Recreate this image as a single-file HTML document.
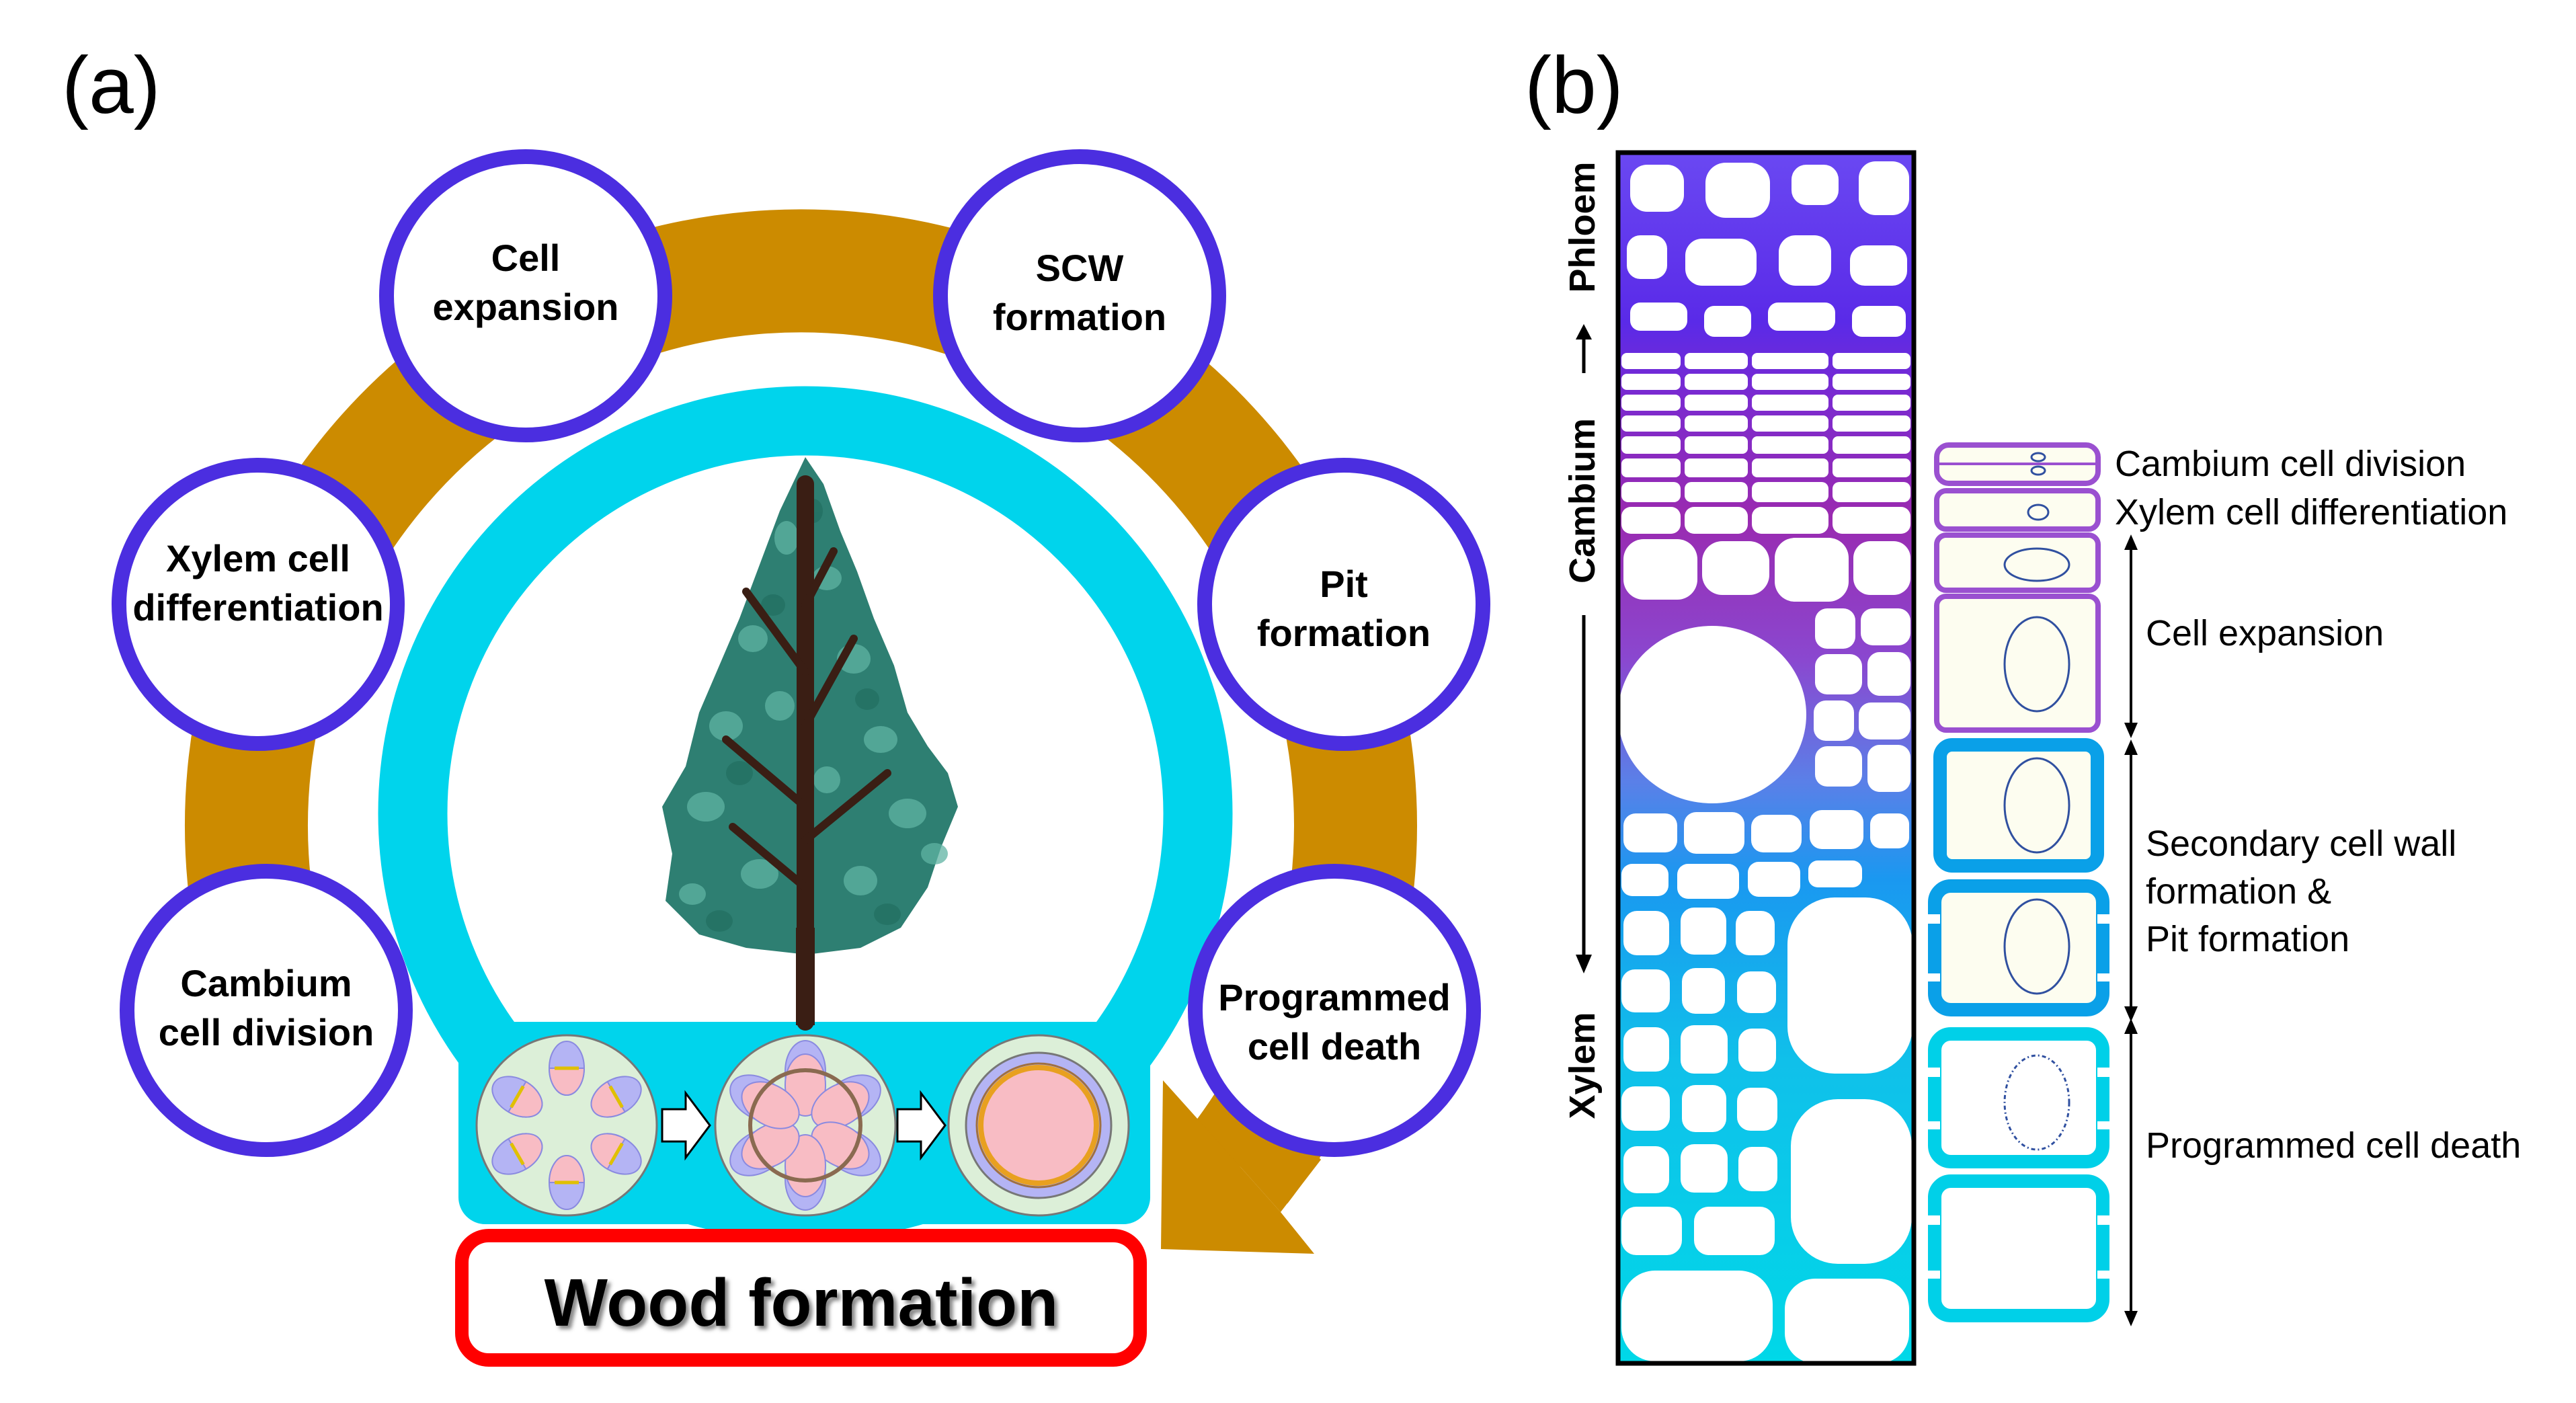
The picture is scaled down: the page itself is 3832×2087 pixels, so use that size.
<!DOCTYPE html>
<html><head><meta charset="utf-8"><style>
html,body{margin:0;padding:0;background:#fff;}
svg{display:block;}
.cl{font-family:"Liberation Sans",Arial,sans-serif;font-weight:bold;font-size:56px;fill:#000;text-anchor:middle;}
.lb{font-family:"Liberation Sans",Arial,sans-serif;font-size:54px;fill:#000;}
</style></head><body>
<svg width="3832" height="2087" viewBox="0 0 3832 2087" xmlns="http://www.w3.org/2000/svg">
<defs>
<linearGradient id="mg" x1="0" y1="227" x2="0" y2="2028" gradientUnits="userSpaceOnUse">
<stop offset="0" stop-color="#6a48f2"/><stop offset="0.14" stop-color="#5a2ae8"/>
<stop offset="0.2" stop-color="#7a2ad0"/><stop offset="0.3" stop-color="#9a2ab0"/>
<stop offset="0.42" stop-color="#8a48d0"/><stop offset="0.52" stop-color="#5a80e8"/>
<stop offset="0.6" stop-color="#1a98f0"/><stop offset="0.75" stop-color="#10c0ea"/>
<stop offset="1" stop-color="#00d8e8"/></linearGradient>
<filter id="sh"><feDropShadow dx="5" dy="5" stdDeviation="3" flood-color="#888"/></filter>
</defs>

<text x="92" y="168" font-family="Liberation Sans,Arial,sans-serif" font-size="120" fill="#000">(a)</text>

<path d="M423 1528 A825 825 0 1 1 1843 1734" fill="none" stroke="#cc8b00" stroke-width="183"/>
<polygon points="1782,1665 1905,1803 1965,1725 1845,1600" fill="#cc8b00"/>
<polygon points="1730,1607 1782,1665 1905,1803 1955,1865 1727,1858" fill="#cc8b00"/>

<circle cx="1198" cy="1210" r="584" fill="#fff" stroke="#00d4ec" stroke-width="103"/>
<rect x="682" y="1520" width="1029" height="301" rx="40" fill="#00d4ec"/>

<polygon points="1198,680 1225,720 1250,790 1275,850 1300,920 1330,990 1350,1060 1380,1110 1410,1150 1425,1200 1400,1260 1380,1320 1340,1380 1280,1410 1200,1420 1110,1410 1040,1390 990,1340 1000,1270 985,1200 1020,1140 1040,1060 1070,990 1100,920 1130,840 1160,760" fill="#2e7f72"/>
<g fill="#5fb3a3" opacity="0.75">
<ellipse cx="1170" cy="800" rx="18" ry="25"/><ellipse cx="1230" cy="860" rx="22" ry="18"/>
<ellipse cx="1120" cy="950" rx="22" ry="20"/><ellipse cx="1270" cy="980" rx="25" ry="22"/>
<ellipse cx="1080" cy="1080" rx="25" ry="22"/><ellipse cx="1310" cy="1100" rx="25" ry="20"/>
<ellipse cx="1160" cy="1050" rx="22" ry="22"/><ellipse cx="1050" cy="1200" rx="28" ry="22"/>
<ellipse cx="1350" cy="1210" rx="28" ry="22"/><ellipse cx="1130" cy="1300" rx="28" ry="22"/>
<ellipse cx="1280" cy="1310" rx="25" ry="22"/><ellipse cx="1230" cy="1160" rx="20" ry="20"/>
<ellipse cx="1030" cy="1330" rx="20" ry="16"/><ellipse cx="1390" cy="1270" rx="20" ry="16"/>
</g>
<g fill="#1f6a5e" opacity="0.6">
<ellipse cx="1210" cy="760" rx="14" ry="18"/><ellipse cx="1150" cy="900" rx="18" ry="16"/>
<ellipse cx="1290" cy="1040" rx="18" ry="16"/><ellipse cx="1100" cy="1150" rx="20" ry="18"/>
<ellipse cx="1320" cy="1360" rx="20" ry="16"/><ellipse cx="1070" cy="1370" rx="20" ry="16"/>
</g>
<g stroke="#3a1e14" fill="none" stroke-linecap="round">
<path d="M1198 720 L1198 1520" stroke-width="26"/>
<path d="M1198 1000 L1110 880 M1198 1080 L1270 950 M1198 1200 L1080 1100 M1198 1250 L1320 1150 M1198 900 L1240 820 M1198 1320 L1090 1230" stroke-width="12"/>
</g>
<rect x="1184" y="1380" width="28" height="145" fill="#3a1e14"/>

<g fill="#fff" stroke="#4b2ee0" stroke-width="22">
<circle cx="782" cy="440" r="207"/><circle cx="1606" cy="440" r="207"/>
<circle cx="384" cy="899" r="207"/><circle cx="1999" cy="899" r="207"/>
<circle cx="396" cy="1503" r="207"/><circle cx="1985" cy="1503" r="207"/>
</g>
<text class="cl" x="782" y="403">Cell</text><text class="cl" x="782" y="476">expansion</text>
<text class="cl" x="1606" y="418">SCW</text><text class="cl" x="1606" y="491">formation</text>
<text class="cl" x="384" y="850">Xylem cell</text><text class="cl" x="384" y="923">differentiation</text>
<text class="cl" x="1999" y="888">Pit</text><text class="cl" x="1999" y="961">formation</text>
<text class="cl" x="396" y="1482">Cambium</text><text class="cl" x="396" y="1555">cell division</text>
<text class="cl" x="1985" y="1503" font-size="54">Programmed</text><text class="cl" x="1985" y="1576">cell death</text>

<g stroke="#777" stroke-width="3">
<circle cx="843" cy="1674" r="134" fill="#dcefd8"/>
<circle cx="1198" cy="1674" r="134" fill="#dcefd8"/>
<circle cx="1545" cy="1674" r="134" fill="#dcefd8"/>
</g>
<g stroke="#8a8ae0" stroke-width="2">
<g transform="translate(843,1674)">
<g id="ov"><ellipse cx="0" cy="-85" rx="26" ry="40" fill="#b4b4f4"/><path d="M-26 -85 A26 40 0 0 0 26 -85 Z" fill="#f8bcc4"/><line x1="-18" y1="-85" x2="18" y2="-85" stroke="#e0c000" stroke-width="5"/></g>
<use href="#ov" transform="rotate(60)"/><use href="#ov" transform="rotate(120)"/><use href="#ov" transform="rotate(180)"/><use href="#ov" transform="rotate(240)"/><use href="#ov" transform="rotate(300)"/>
</g>
<g transform="translate(1198,1674)">
<g id="ov2"><ellipse cx="0" cy="-80" rx="30" ry="46" fill="#b4b4f4"/><ellipse cx="0" cy="-60" rx="30" ry="46" fill="#f8bcc4"/></g>
<use href="#ov2" transform="rotate(60)"/><use href="#ov2" transform="rotate(120)"/><use href="#ov2" transform="rotate(180)"/><use href="#ov2" transform="rotate(240)"/><use href="#ov2" transform="rotate(300)"/>
<circle r="82" fill="none" stroke="#8a6a50" stroke-width="6"/>
</g>
</g>
<circle cx="1545" cy="1674" r="108" fill="#b4b4f4" stroke="#777" stroke-width="3"/>
<circle cx="1545" cy="1674" r="86" fill="#f8bcc4" stroke="#e8a020" stroke-width="8"/>
<circle cx="1545" cy="1674" r="92" fill="none" stroke="#a07040" stroke-width="3"/>
<g fill="#fff" stroke="#000" stroke-width="3">
<polygon points="985,1650 1020,1650 1020,1626 1056,1674 1020,1722 1020,1698 985,1698"/>
<polygon points="1335,1650 1370,1650 1370,1626 1406,1674 1370,1722 1370,1698 1335,1698"/>
</g>

<rect x="687" y="1838" width="1009" height="185" rx="40" fill="#fff" stroke="#ff0000" stroke-width="20"/>
<text x="1192" y="1972" text-anchor="middle" font-family="Liberation Sans,Arial,sans-serif" font-weight="bold" font-size="100" filter="url(#sh)">Wood formation</text>

<text x="2268" y="168" font-family="Liberation Sans,Arial,sans-serif" font-size="120" fill="#000">(b)</text>

<rect x="2407" y="227" width="440" height="1801" fill="url(#mg)"/>
<g fill="#fff">
<rect x="2425" y="245" width="80" height="70" rx="25"/><rect x="2537" y="242" width="96" height="82" rx="30"/><rect x="2665" y="245" width="70" height="60" rx="22"/><rect x="2765" y="240" width="75" height="80" rx="25"/>
<rect x="2420" y="350" width="60" height="65" rx="20"/><rect x="2507" y="355" width="106" height="70" rx="25"/><rect x="2646" y="350" width="78" height="75" rx="25"/><rect x="2752" y="365" width="85" height="60" rx="22"/>
<rect x="2425" y="450" width="85" height="42" rx="15"/><rect x="2535" y="455" width="70" height="46" rx="15"/><rect x="2630" y="450" width="100" height="42" rx="15"/><rect x="2755" y="455" width="80" height="46" rx="15"/>
</g>
<g fill="#fff">
<rect x="2412" y="525" width="88" height="24" rx="8"/><rect x="2506" y="525" width="94" height="24" rx="8"/><rect x="2606" y="525" width="114" height="24" rx="8"/><rect x="2726" y="525" width="116" height="24" rx="8"/>
<rect x="2412" y="556" width="88" height="24" rx="8"/><rect x="2506" y="556" width="94" height="24" rx="8"/><rect x="2606" y="556" width="114" height="24" rx="8"/><rect x="2726" y="556" width="116" height="24" rx="8"/>
<rect x="2412" y="587" width="88" height="24" rx="8"/><rect x="2506" y="587" width="94" height="24" rx="8"/><rect x="2606" y="587" width="114" height="24" rx="8"/><rect x="2726" y="587" width="116" height="24" rx="8"/>
<rect x="2412" y="618" width="88" height="24" rx="8"/><rect x="2506" y="618" width="94" height="24" rx="8"/><rect x="2606" y="618" width="114" height="24" rx="8"/><rect x="2726" y="618" width="116" height="24" rx="8"/>
<rect x="2412" y="649" width="88" height="26" rx="8"/><rect x="2506" y="649" width="94" height="26" rx="8"/><rect x="2606" y="649" width="114" height="26" rx="8"/><rect x="2726" y="649" width="116" height="26" rx="8"/>
<rect x="2412" y="682" width="88" height="28" rx="8"/><rect x="2506" y="682" width="94" height="28" rx="8"/><rect x="2606" y="682" width="114" height="28" rx="8"/><rect x="2726" y="682" width="116" height="28" rx="8"/>
<rect x="2412" y="717" width="88" height="30" rx="10"/><rect x="2506" y="717" width="94" height="30" rx="10"/><rect x="2606" y="717" width="114" height="30" rx="10"/><rect x="2726" y="717" width="116" height="30" rx="10"/>
<rect x="2412" y="754" width="88" height="40" rx="14"/><rect x="2506" y="754" width="94" height="40" rx="14"/><rect x="2606" y="754" width="114" height="40" rx="14"/><rect x="2726" y="754" width="116" height="40" rx="14"/>
<rect x="2415" y="802" width="110" height="90" rx="30"/><rect x="2532" y="805" width="100" height="80" rx="30"/><rect x="2640" y="800" width="110" height="95" rx="30"/><rect x="2757" y="805" width="85" height="80" rx="25"/>
<ellipse cx="2547" cy="1063" rx="140" ry="132"/>
<rect x="2700" y="905" width="60" height="60" rx="18"/><rect x="2768" y="905" width="74" height="55" rx="18"/><rect x="2700" y="973" width="70" height="60" rx="18"/><rect x="2778" y="970" width="64" height="65" rx="18"/>
<rect x="2698" y="1042" width="60" height="60" rx="18"/><rect x="2765" y="1045" width="77" height="55" rx="18"/><rect x="2700" y="1110" width="70" height="60" rx="18"/><rect x="2778" y="1108" width="64" height="70" rx="18"/>
<rect x="2415" y="1210" width="80" height="58" rx="18"/><rect x="2505" y="1208" width="90" height="62" rx="18"/><rect x="2605" y="1212" width="75" height="56" rx="18"/><rect x="2692" y="1205" width="80" height="58" rx="18"/><rect x="2782" y="1210" width="58" height="52" rx="16"/>
<rect x="2412" y="1285" width="70" height="48" rx="16"/><rect x="2495" y="1285" width="92" height="52" rx="16"/><rect x="2600" y="1282" width="78" height="52" rx="16"/><rect x="2690" y="1280" width="80" height="40" rx="14"/>
<rect x="2659" y="1335" width="186" height="262" rx="70"/>
<rect x="2664" y="1635" width="180" height="245" rx="70"/>
<rect x="2415" y="1355" width="68" height="66" rx="20"/><rect x="2500" y="1350" width="68" height="70" rx="20"/><rect x="2582" y="1355" width="58" height="66" rx="20"/>
<rect x="2412" y="1442" width="72" height="64" rx="20"/><rect x="2502" y="1440" width="64" height="68" rx="20"/><rect x="2584" y="1445" width="58" height="62" rx="20"/>
<rect x="2415" y="1528" width="68" height="66" rx="20"/><rect x="2500" y="1525" width="70" height="72" rx="20"/><rect x="2586" y="1530" width="56" height="64" rx="20"/>
<rect x="2412" y="1616" width="72" height="66" rx="20"/><rect x="2502" y="1614" width="66" height="70" rx="20"/><rect x="2584" y="1618" width="60" height="64" rx="20"/>
<rect x="2415" y="1705" width="68" height="70" rx="20"/><rect x="2500" y="1702" width="70" height="72" rx="20"/><rect x="2586" y="1706" width="58" height="66" rx="20"/>
<rect x="2412" y="1795" width="90" height="72" rx="22"/><rect x="2520" y="1795" width="120" height="72" rx="22"/>
<rect x="2412" y="1890" width="225" height="135" rx="50"/><rect x="2655" y="1902" width="185" height="126" rx="45"/>
</g>
<rect x="2407" y="227" width="440" height="1801" fill="none" stroke="#000" stroke-width="7"/>

<g font-family="Liberation Sans,Arial,sans-serif" font-weight="bold" font-size="54">
<text transform="translate(2372,338) rotate(-90)" text-anchor="middle">Phloem</text>
<text transform="translate(2372,745) rotate(-90)" text-anchor="middle">Cambium</text>
<text transform="translate(2372,1585) rotate(-90)" text-anchor="middle">Xylem</text>
</g>
<g stroke="#000" stroke-width="5"><line x1="2356" y1="555" x2="2356" y2="500"/><line x1="2356" y1="915" x2="2356" y2="1425"/></g>
<polygon points="2344,505 2368,505 2356,482" fill="#000"/>
<polygon points="2344,1420 2368,1420 2356,1448" fill="#000"/>

<g fill="#fdfdf0" stroke="#9a50d0" stroke-width="8">
<rect x="2881" y="662" width="240" height="57" rx="18"/>
<rect x="2881" y="730" width="240" height="57" rx="14"/>
<rect x="2881" y="796" width="240" height="82" rx="14"/>
<rect x="2881" y="887" width="240" height="199" rx="14"/>
</g>
<line x1="2885" y1="690" x2="3117" y2="690" stroke="#9a50d0" stroke-width="4"/>
<g fill="#fdfdf0" stroke-width="20">
<rect x="2886" y="1108" width="234" height="180" rx="18" stroke="#0aa0e8"/>
<rect x="2878" y="1318" width="250" height="184" rx="24" stroke="#0aa0e8"/>
<rect x="2878" y="1538" width="250" height="190" rx="24" stroke="#00d0e8" fill="#fff"/>
<rect x="2878" y="1757" width="250" height="200" rx="24" stroke="#00d0e8" fill="#fff"/>
</g>
<g fill="#fff">
<rect x="2862" y="1360" width="24" height="14"/><rect x="2862" y="1448" width="24" height="12"/><rect x="3120" y="1360" width="24" height="14"/><rect x="3120" y="1448" width="24" height="12"/>
<rect x="2862" y="1588" width="24" height="14"/><rect x="2862" y="1668" width="24" height="12"/><rect x="3120" y="1588" width="24" height="14"/><rect x="3120" y="1668" width="24" height="12"/>
<rect x="2862" y="1808" width="24" height="14"/><rect x="2862" y="1890" width="24" height="12"/><rect x="3120" y="1808" width="24" height="14"/><rect x="3120" y="1890" width="24" height="12"/>
</g>
<g fill="none" stroke="#3050a0" stroke-width="3">
<ellipse cx="3032" cy="680" rx="10" ry="6"/><ellipse cx="3032" cy="700" rx="10" ry="6"/>
<ellipse cx="3032" cy="762" rx="15" ry="11"/>
<ellipse cx="3030" cy="840" rx="48" ry="24"/>
<ellipse cx="3030" cy="988" rx="48" ry="70"/>
<ellipse cx="3030" cy="1198" rx="48" ry="70"/>
<ellipse cx="3030" cy="1408" rx="48" ry="70"/>
<ellipse cx="3030" cy="1640" rx="48" ry="70" stroke-dasharray="6,4,2,4"/>
</g>

<g stroke="#000" stroke-width="4">
<line x1="3170" y1="805" x2="3170" y2="1078"/>
<line x1="3170" y1="1110" x2="3170" y2="1500"/>
<line x1="3170" y1="1525" x2="3170" y2="1955"/>
</g>
<g fill="#000">
<polygon points="3160,818 3180,818 3170,795"/><polygon points="3160,1075 3180,1075 3170,1098"/>
<polygon points="3160,1123 3180,1123 3170,1100"/><polygon points="3160,1497 3180,1497 3170,1520"/>
<polygon points="3160,1538 3180,1538 3170,1515"/><polygon points="3160,1950 3180,1950 3170,1973"/>
</g>
<text class="lb" x="3146" y="708">Cambium cell division</text>
<text class="lb" x="3146" y="780">Xylem cell differentiation</text>
<text class="lb" x="3192" y="960">Cell expansion</text>
<text class="lb" x="3192" y="1273">Secondary cell wall</text>
<text class="lb" x="3192" y="1344">formation &amp;</text>
<text class="lb" x="3192" y="1415">Pit formation</text>
<text class="lb" x="3192" y="1722">Programmed cell death</text>
</svg>
</body></html>
